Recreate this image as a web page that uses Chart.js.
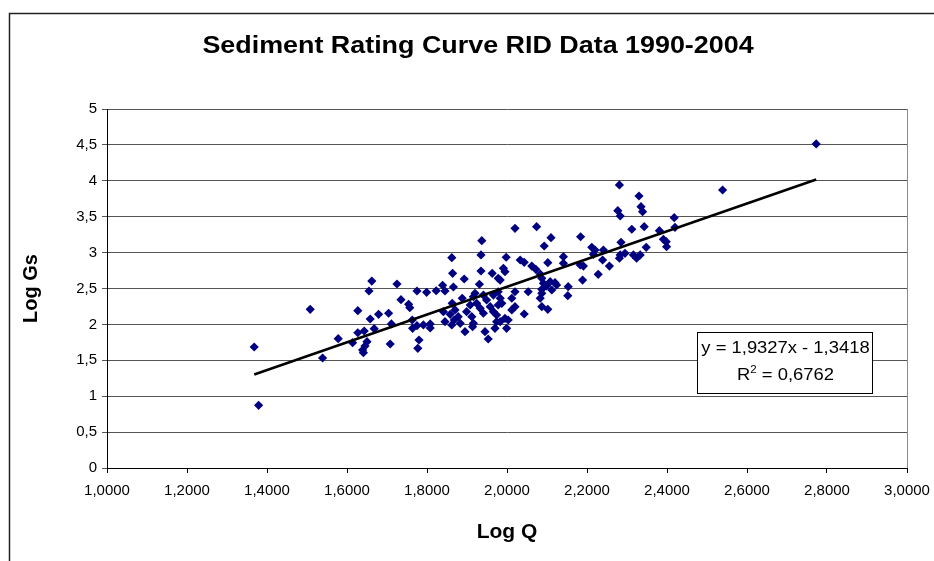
<!DOCTYPE html>
<html>
<head>
<meta charset="utf-8">
<title>Sediment Rating Curve RID Data 1990-2004</title>
<script src="https://cdn.jsdelivr.net/npm/chart.js@4.4.0/dist/chart.umd.min.js"></script>
<style>
  html, body { margin: 0; padding: 0; background: #fff; }
</style>
</head>
<body>
<canvas id="mycanvas" width="934" height="561"></canvas>
<script>
// log of discharge (Q) and log of sediment load (Gs), one entry per sample
var logQ = [
  1.368, 1.379, 1.508, 1.539, 1.578, 1.627, 1.662, 1.655, 1.658, 1.679,
  1.704, 1.725, 1.735, 1.754, 1.757, 1.775, 1.668, 1.711, 1.708, 1.627,
  1.643, 1.614, 1.650, 1.645, 1.639, 1.641, 1.763, 1.764, 1.775, 1.777,
  1.780, 1.799, 1.823, 1.839, 1.845, 1.866, 1.862, 1.864, 1.893, 1.937,
  1.935, 1.935, 1.931, 1.963, 1.978, 1.920, 1.916, 1.888, 1.863, 1.941,
  1.949, 1.966, 1.908, 1.924, 1.899, 1.870, 1.858, 1.878, 1.868, 1.845,
  1.862, 1.883, 1.808, 1.808, 1.895, 1.916, 1.912, 1.933, 1.941, 1.958,
  1.966, 1.974, 1.978, 1.945, 1.953, 1.970, 1.974, 1.791, 1.841, 1.914,
  1.999, 1.995, 2.003, 1.983, 2.020, 2.012, 2.043, 2.087, 2.102, 1.978,
  1.983, 1.987, 2.020, 2.012, 2.053, 2.087, 2.083, 2.099, 2.108, 2.120,
  2.124, 2.083, 1.983, 1.991, 1.995, 1.998, 2.033, 2.043, 2.062, 2.072,
  2.102, 2.141, 2.141, 2.020, 2.074, 2.110, 2.093, 2.112, 2.087, 2.091,
  2.087, 2.153, 2.152, 2.184, 2.212, 2.220, 2.216, 2.241, 2.283, 2.295,
  2.281, 2.316, 2.324, 2.333, 2.239, 2.183, 2.191, 2.256, 2.228, 2.189,
  2.281, 2.330, 2.335, 2.339, 2.277, 2.283, 2.312, 2.343, 2.285, 2.348,
  2.418, 2.420, 2.381, 2.391, 2.398, 2.399, 2.773, 2.539
];
var logGs = [
  1.685, 0.873, 2.210, 1.532, 1.801, 2.191, 2.604, 2.465, 2.075, 2.141,
  2.155, 2.563, 2.344, 2.280, 2.233, 2.465, 1.940, 2.006, 1.727, 1.884,
  1.908, 1.745, 1.759, 1.699, 1.643, 1.606, 2.061, 1.946, 1.982, 1.667,
  1.783, 2.447, 2.469, 2.545, 2.465, 2.521, 2.929, 2.712, 2.632, 3.166,
  2.967, 2.744, 2.559, 2.712, 2.642, 2.433, 2.386, 2.364, 2.294, 2.409,
  2.340, 2.409, 2.270, 2.294, 2.177, 2.201, 2.141, 2.107, 2.061, 2.038,
  1.992, 2.015, 2.006, 1.950, 1.898, 2.015, 2.107, 2.224, 2.155, 2.247,
  2.177, 2.131, 2.270, 1.898, 1.797, 1.946, 2.038, 1.992, 2.177, 1.968,
  1.946, 2.085, 2.061, 2.038, 2.247, 2.201, 2.145, 2.247, 2.210, 2.455,
  2.364, 2.294, 2.455, 2.364, 2.455, 2.489, 2.364, 2.535, 2.595, 2.581,
  2.549, 2.702, 2.618, 2.781, 2.734, 2.935, 2.897, 2.865, 2.813, 2.767,
  2.859, 2.943, 2.851, 3.338, 3.361, 3.208, 3.092, 2.479, 2.642, 2.572,
  2.433, 2.525, 2.400, 3.221, 3.074, 3.036, 2.976, 3.036, 2.967, 2.990,
  2.921, 2.967, 2.921, 2.967, 2.897, 2.827, 2.813, 2.813, 2.698, 2.618,
  3.942, 3.788, 3.639, 3.570, 3.584, 3.510, 3.325, 3.361, 3.143, 3.074,
  3.486, 3.352, 3.305, 3.185, 3.152, 3.082, 4.513, 3.872
];

// linear trend fitted in the spreadsheet
var slope = 1.9327;
var intercept = -1.3418;
var rSquared = 0.6762;

var chartTitle = 'Sediment Rating Curve RID Data 1990-2004';
var xAxisMin = 1, xAxisMax = 3, xStep = 0.2;
var yAxisMin = 0, yAxisMax = 5, yStep = 0.5;

var FONT = '"Liberation Sans", Arial, sans-serif';

function comma(v, digits) {
  return v.toFixed(digits).replace('.', ',');
}

var points = [];
for (var i = 0; i < logQ.length; i++) {
  points.push({ x: logQ[i], y: logGs[i] });
}

var qMin = Math.min.apply(null, logQ);
var qMax = Math.max.apply(null, logQ);
var trend = [
  { x: qMin, y: slope * qMin + intercept },
  { x: qMax, y: slope * qMax + intercept }
];

// text drawn a little wider than the font, like the old Excel export
function wideText(ctx, text, x, y, sx) {
  ctx.save();
  ctx.translate(x, y);
  ctx.scale(sx, 1);
  ctx.fillText(text, 0, 0);
  ctx.restore();
}

// outer chart border, title, plot area edge and the equation label
var excelLook = {
  id: 'excelLook',
  beforeDraw: function(chart) {
    var ctx = chart.ctx;
    ctx.save();
    ctx.fillStyle = '#ffffff';
    ctx.fillRect(0, 0, chart.width, chart.height);
    ctx.strokeStyle = '#222222';
    ctx.lineWidth = 1.5;
    ctx.beginPath();
    ctx.moveTo(9.5, chart.height);
    ctx.lineTo(9.5, 13.5);
    ctx.lineTo(chart.width, 13.5);
    ctx.stroke();

    ctx.fillStyle = '#000000';
    ctx.font = 'bold 24px ' + FONT;
    ctx.textAlign = 'center';
    ctx.textBaseline = 'middle';
    wideText(ctx, chartTitle, 478, 46, 1.12);
    ctx.restore();
  },
  afterDraw: function(chart) {
    var ctx = chart.ctx;
    var a = chart.chartArea;
    ctx.save();
    ctx.strokeStyle = '#8c8c8c';
    ctx.lineWidth = 1;
    ctx.beginPath();
    ctx.moveTo(a.right + 0.5, a.top);
    ctx.lineTo(a.right + 0.5, a.bottom);
    ctx.stroke();

    // trendline label box
    var bx = 697, by = 332, bw = 175, bh = 61;
    var sx = 1.15;
    ctx.fillStyle = '#ffffff';
    ctx.fillRect(bx, by, bw, bh);
    ctx.strokeStyle = '#000000';
    ctx.strokeRect(bx + 0.5, by + 0.5, bw, bh);
    ctx.fillStyle = '#000000';
    ctx.textBaseline = 'middle';
    ctx.textAlign = 'center';
    ctx.font = '16px ' + FONT;
    var cx = bx + bw / 2 + 1;
    wideText(ctx, 'y = ' + comma(slope, 4) + 'x - ' + comma(-intercept, 4), cx, by + 17, sx);

    var r1 = 'R', r2 = ' = ' + comma(rSquared, 4);
    var w1 = ctx.measureText(r1).width * sx;
    var w2 = ctx.measureText(r2).width * sx;
    ctx.font = '10px ' + FONT;
    var ws = ctx.measureText('2').width * sx;
    var start = cx - (w1 + ws + w2) / 2;
    ctx.textAlign = 'left';
    ctx.font = '16px ' + FONT;
    wideText(ctx, r1, start, by + 44, sx);
    ctx.font = '10px ' + FONT;
    wideText(ctx, '2', start + w1, by + 38, sx);
    ctx.font = '16px ' + FONT;
    wideText(ctx, r2, start + w1 + ws, by + 44, sx);
    ctx.restore();
  }
};

var ctx1 = document.getElementById('mycanvas');

var scatterChart = new Chart(ctx1, {
  type: 'scatter',
  data: {
    datasets: [
      {
        label: 'Log Gs',
        data: points,
        pointStyle: 'rectRot',
        pointRadius: 4.6,
        backgroundColor: '#000080',
        borderColor: '#000080',
        borderWidth: 0,
        order: 2
      },
      {
        type: 'line',
        label: 'Linear',
        data: trend,
        borderColor: '#000000',
        borderWidth: 2.5,
        pointRadius: 0,
        fill: false,
        order: 1
      }
    ]
  },
  options: {
    responsive: false,
    animation: false,
    events: [],
    layout: { padding: { left: 10, top: 109, right: 27, bottom: 0 } },
    plugins: {
      legend: { display: false },
      tooltip: { enabled: false },
      title: { display: false }
    },
    scales: {
      x: {
        type: 'linear',
        min: xAxisMin,
        max: xAxisMax,
        afterFit: function(scale) {
          scale.height = 93;
          // end labels may hang past the plot edge, keep the plot width fixed
          scale.paddingLeft = 0;
          scale.paddingRight = 0;
        },
        border: { display: true, color: '#000000', width: 1 },
        grid: { drawOnChartArea: false, drawTicks: true, tickLength: 5, color: '#000000' },
        ticks: {
          stepSize: xStep,
          color: '#000000',
          padding: 9,
          maxRotation: 0,
          font: { family: FONT, size: 15 },
          callback: function(v) { return comma(Number(v), 4); }
        },
        title: {
          display: true,
          text: 'Log Q',
          color: '#000000',
          font: { family: FONT, size: 21, weight: 'bold' },
          padding: { top: 0, bottom: 16 }
        }
      },
      y: {
        type: 'linear',
        min: yAxisMin,
        max: yAxisMax,
        afterFit: function(scale) { scale.width = 97; },
        border: { display: true, color: '#000000', width: 1 },
        grid: { color: '#555555', lineWidth: 1, tickLength: 5 },
        ticks: {
          stepSize: yStep,
          color: '#000000',
          padding: 5,
          font: { family: FONT, size: 15 },
          callback: function(v) { return String(Math.round(v * 10) / 10).replace('.', ','); }
        },
        title: {
          display: true,
          text: 'Log Gs',
          color: '#000000',
          font: { family: FONT, size: 20, weight: 'bold' },
          padding: { top: 9, bottom: 0 }
        }
      }
    }
  },
  plugins: [excelLook]
});
</script>
</body>
</html>
